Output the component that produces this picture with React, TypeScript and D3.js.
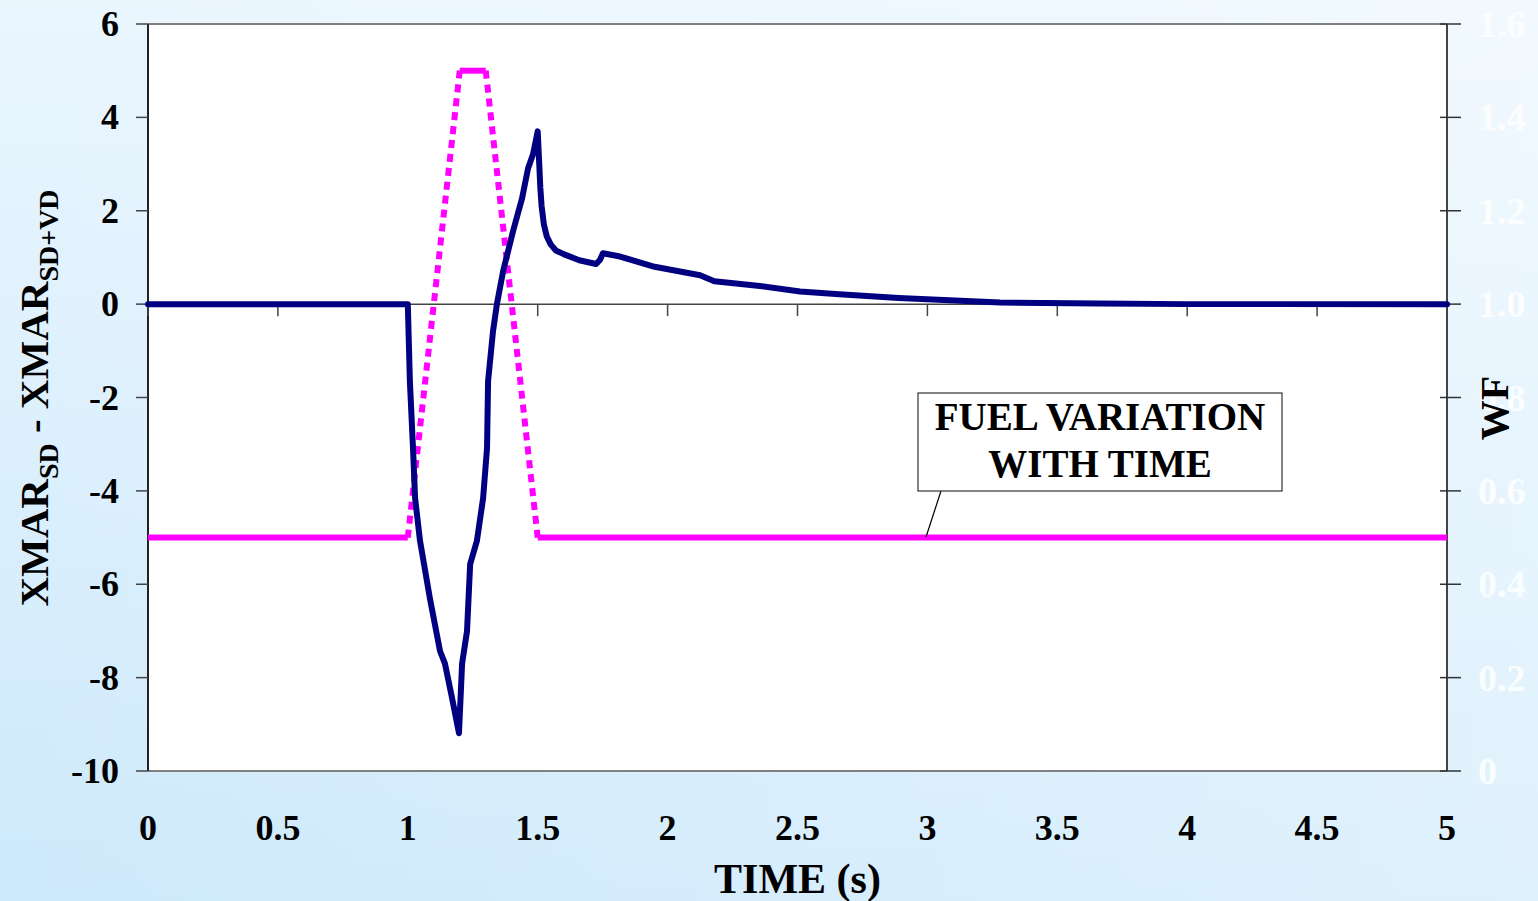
import React from "react";
import * as d3 from "d3";

const xTicks = [0, 0.5, 1, 1.5, 2, 2.5, 3, 3.5, 4, 4.5, 5];
const yTicks = [-10, -8, -6, -4, -2, 0, 2, 4, 6];
const wfTicks = [0, 0.2, 0.4, 0.6, 0.8, 1.0, 1.2, 1.4, 1.6];

// XMAR difference vs time
const xmarT = [0, 1.0, 1.008, 1.02, 1.028, 1.047, 1.085, 1.124, 1.143, 1.17, 1.197, 1.209, 1.228, 1.24, 1.266, 1.29, 1.305, 1.309, 1.328, 1.343, 1.367, 1.405, 1.44, 1.463, 1.482, 1.50, 1.506, 1.51, 1.515, 1.524, 1.535, 1.55, 1.57, 1.6, 1.66, 1.725, 1.74, 1.751, 1.817, 1.95, 2.125, 2.18, 2.355, 2.51, 2.66, 2.89, 3.28, 3.66, 4.0, 5.0];
const xmarV = [0, 0, -1.65, -3.08, -4.15, -5.07, -6.3, -7.43, -7.7, -8.43, -9.19, -7.7, -7.0, -5.57, -5.07, -4.15, -3.08, -1.65, -0.58, 0, 0.71, 1.56, 2.27, 2.91, 3.21, 3.70, 3.0, 2.5, 2.1, 1.7, 1.45, 1.28, 1.15, 1.07, 0.94, 0.86, 0.95, 1.09, 1.02, 0.8, 0.62, 0.49, 0.39, 0.27, 0.21, 0.13, 0.035, 0.015, 0, 0];

// Fuel flow WF vs time
const wfFlat1T = [0, 1.0];
const wfFlat1V = [0.5, 0.5];
const wfUpT = [1.0, 1.2];
const wfUpV = [0.5, 1.5];
const wfTopT = [1.2, 1.3];
const wfTopV = [1.5, 1.5];
const wfDownT = [1.3, 1.5];
const wfDownV = [1.5, 0.5];
const wfFlat2T = [1.5, 5.0];
const wfFlat2V = [0.5, 0.5];

const W = 1538, H = 901;
const L = 148, R = 1447, T = 24, B = 771;
const FONT = "'Liberation Serif', 'Times New Roman', serif";

export default function App() {
  const x = d3.scaleLinear().domain([0, 5]).range([L, R]);
  const y = d3.scaleLinear().domain([-10, 6]).range([B, T]);
  const y2 = d3.scaleLinear().domain([0, 1.6]).range([B, T]);

  const lineL = d3.line<[number, number]>().x(d => x(d[0])).y(d => y(d[1]));
  const lineR = d3.line<[number, number]>().x(d => x(d[0])).y(d => y2(d[1]));
  const zip = (a: number[], b: number[]) => a.map((v, i) => [v, b[i]] as [number, number]);

  const y0 = y(0);

  return (
    <svg width={W} height={H} style={{ position: "absolute", left: 0, top: 0 }}>
      <defs>
        <linearGradient id="bg" x1="0" y1="0" x2="0" y2="1">
          <stop offset="0" stopColor="#eaf6fe" />
          <stop offset="1" stopColor="#cde9fb" />
        </linearGradient>
        <linearGradient id="bgh" x1="0" y1="0" x2="1" y2="0">
          <stop offset="0" stopColor="#ffffff" stopOpacity="0" />
          <stop offset="1" stopColor="#ffffff" stopOpacity="0.35" />
        </linearGradient>
      </defs>
      <rect x={0} y={0} width={W} height={H} fill="url(#bg)" />
      <rect x={0} y={0} width={W} height={H} fill="url(#bgh)" />
      <rect x={L} y={T} width={R - L} height={B - T} fill="#ffffff" />
      {/* frame */}
      <line x1={L} x2={R} y1={T} y2={T} stroke="#808080" strokeWidth={2} />
      <line x1={L} x2={R} y1={B} y2={B} stroke="#808080" strokeWidth={2} />
      <line x1={L} x2={L} y1={T} y2={B} stroke="#222" strokeWidth={2} />
      <line x1={R} x2={R} y1={T} y2={B} stroke="#444" strokeWidth={2} />
      {/* x axis at zero */}
      <line x1={L} x2={R} y1={y0} y2={y0} stroke="#444" strokeWidth={1.5} />
      {xTicks.map(t => (
        <line key={"xt" + t} x1={x(t)} x2={x(t)} y1={y0} y2={y0 + 12} stroke="#444" strokeWidth={1.5} />
      ))}
      {/* left ticks */}
      {yTicks.map(t => (
        <line key={"yt" + t} x1={L - 12} x2={L} y1={y(t)} y2={y(t)} stroke="#444" strokeWidth={1.5} />
      ))}
      {/* right ticks */}
      {wfTicks.map(t => (
        <line key={"wt" + t} x1={R - 7} x2={R + 14} y1={y2(t)} y2={y2(t)} stroke="#333" strokeWidth={1.5} />
      ))}
      {/* x labels */}
      {xTicks.map(t => (
        <text key={"xl" + t} x={x(t)} y={840} textAnchor="middle" fontFamily={FONT} fontWeight="bold" fontSize={36} fill="#000">{String(t)}</text>
      ))}
      {yTicks.map(t => (
        <text key={"yl" + t} x={119} y={y(t) + 12} textAnchor="end" fontFamily={FONT} fontWeight="bold" fontSize={36} fill="#000">{String(t)}</text>
      ))}
      {wfTicks.map(t => (
        <text key={"wl" + t} x={1478} y={y2(t) + 13} textAnchor="start" fontFamily={FONT} fontWeight="bold" fontSize={38} fill="#ffffff" fillOpacity={0.85}>{t === 0 ? "0" : t.toFixed(1)}</text>
      ))}
      <text x={(L + R) / 2} y={893} textAnchor="middle" fontFamily={FONT} fontWeight="bold" fontSize={42} fill="#000">TIME (s)</text>
      <text transform={`translate(48, 398) rotate(-90)`} textAnchor="middle" fontFamily={FONT} fontWeight="bold" fontSize={41} fill="#000">
        XMAR<tspan fontSize={28} dy={10}>SD</tspan><tspan dy={-10}> - XMAR</tspan><tspan fontSize={28} dy={10}>SD+VD</tspan>
      </text>
      <text transform={`translate(1508, 408) rotate(-90)`} textAnchor="middle" fontFamily={FONT} fontWeight="bold" fontSize={40} fill="#000">WF</text>

      {/* WF series */}
      <path d={lineR(zip(wfFlat1T, wfFlat1V)) || ""} fill="none" stroke="#ff00ff" strokeWidth={6} />
      <path d={lineR(zip(wfUpT, wfUpV)) || ""} fill="none" stroke="#ff00ff" strokeWidth={6} strokeDasharray="8 6" />
      <path d={lineR(zip(wfTopT, wfTopV)) || ""} fill="none" stroke="#ff00ff" strokeWidth={6} />
      <path d={lineR(zip(wfDownT, wfDownV)) || ""} fill="none" stroke="#ff00ff" strokeWidth={6} strokeDasharray="8 6" />
      <path d={lineR(zip(wfFlat2T, wfFlat2V)) || ""} fill="none" stroke="#ff00ff" strokeWidth={6} />

      {/* XMAR series */}
      <path d={lineL(zip(xmarT, xmarV)) || ""} fill="none" stroke="#000080" strokeWidth={6} strokeLinejoin="round" strokeLinecap="round" />

      {/* annotation */}
      <line x1={941} y1={491} x2={926} y2={537} stroke="#000" strokeWidth={1.2} />
      <rect x={918} y={393} width={364} height={98} fill="#ffffff" stroke="#333" strokeWidth={1.2} />
      <text x={1100} y={430} textAnchor="middle" fontFamily={FONT} fontWeight="bold" fontSize={39} fill="#000">FUEL VARIATION</text>
      <text x={1100} y={477} textAnchor="middle" fontFamily={FONT} fontWeight="bold" fontSize={39} fill="#000">WITH TIME</text>
    </svg>
  );
}
